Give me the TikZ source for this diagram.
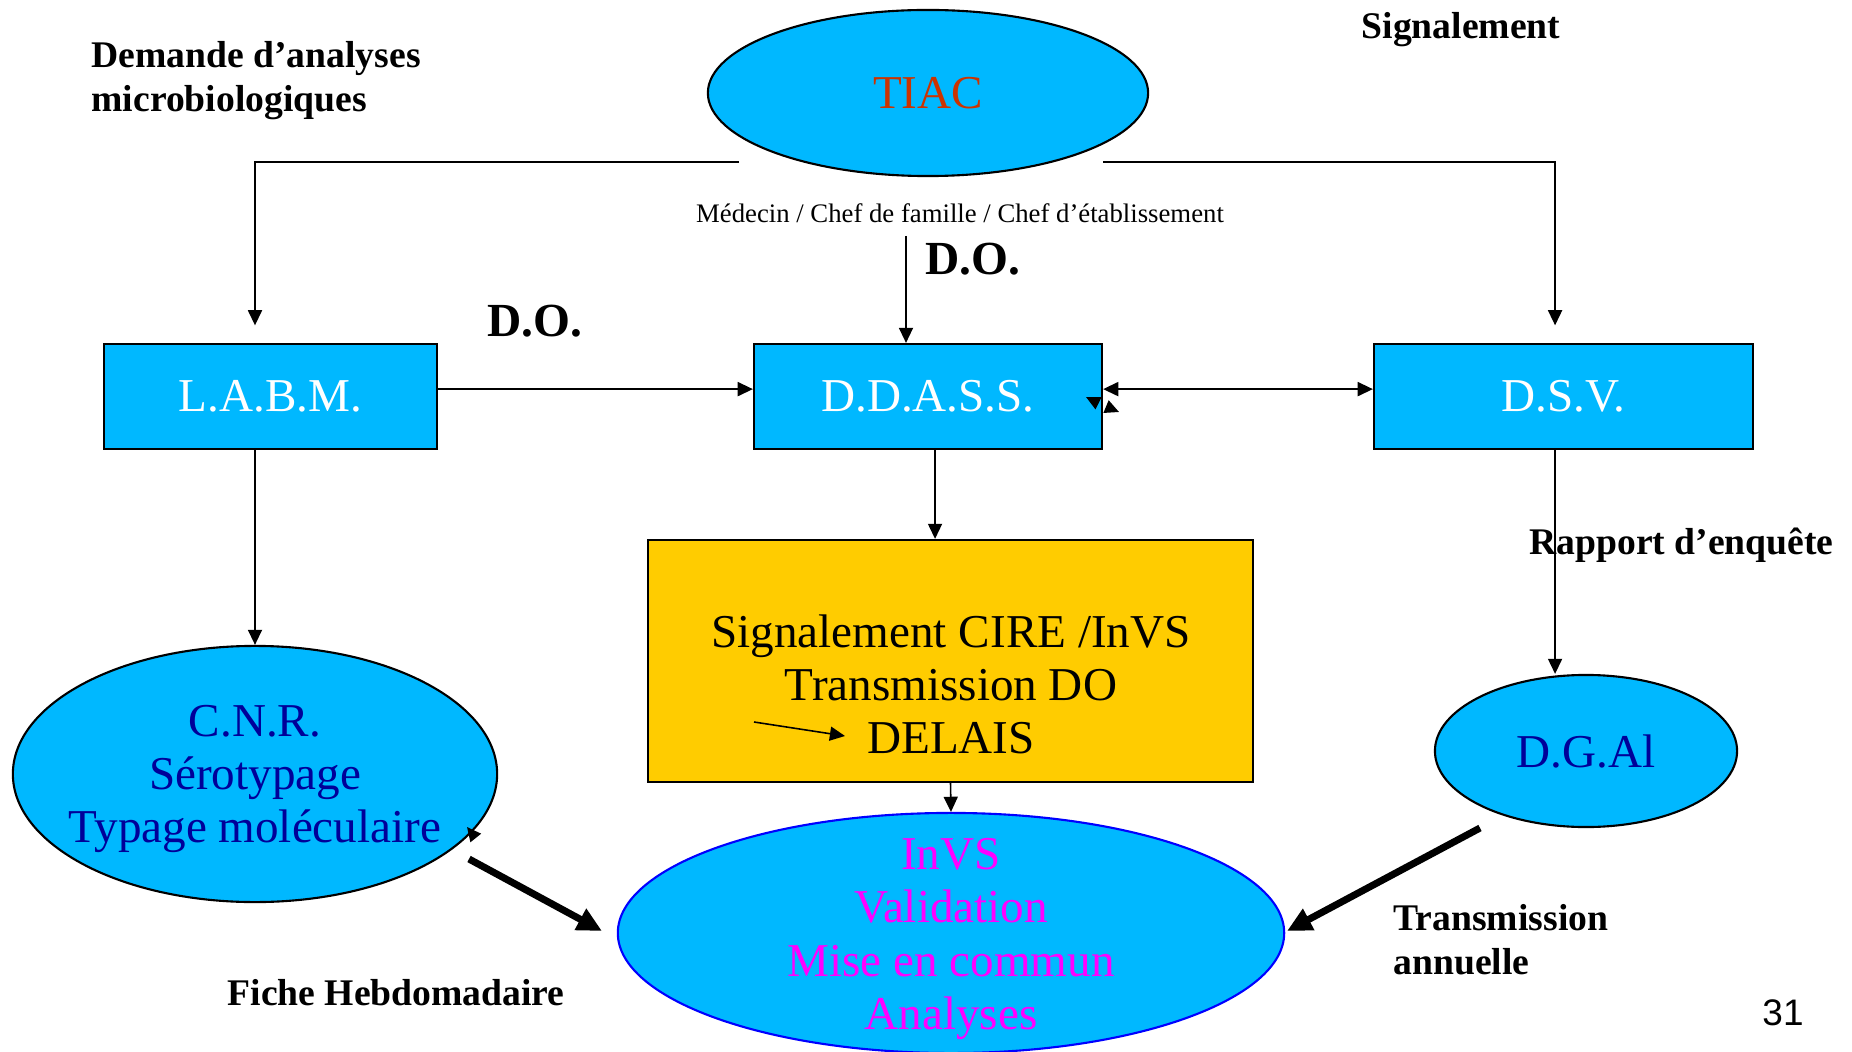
\documentclass[tikz,border=0pt]{standalone}
\usepackage{fontspec}
\setmainfont{Liberation Serif}
\newfontfamily\chiffre{Liberation Sans}
\usepackage{tikz}
\usetikzlibrary{shapes.geometric, arrows.meta, positioning}

\definecolor{ciel}{RGB}{0,184,255}
\definecolor{jaune}{RGB}{255,204,0}
\definecolor{brique}{RGB}{204,51,0}
\definecolor{marine}{RGB}{0,0,153}
\definecolor{rose}{RGB}{255,0,255}

\newcommand\grand{\fontsize{13.4}{15.1}\selectfont}
\newcommand\gras{\bfseries\fontsize{10.7}{12.5}\selectfont}
\newcommand\petit{\fontsize{7.6}{9}\selectfont}

\begin{document}
\begin{tikzpicture}[x=0.01cm, y=-0.01cm, ->, >={Triangle[length=4.3pt,width=4pt]}, line width=0.45pt,
    boite/.style={rectangle, draw, line width=0.6pt, fill=ciel, minimum height=1.05cm, text=white, font=\grand},
    bulle/.style={ellipse, draw, line width=0.6pt, fill=ciel, inner sep=0pt},
    epais/.style={line width=2pt, -{Triangle[length=7pt,width=6.5pt]}},
    petite/.style={-{Triangle[length=4pt,width=3.8pt]}}]
    \useasboundingbox (0,0) rectangle (1852,1052);

    \node[bulle, minimum width=4.4cm, minimum height=1.66cm, text=brique, font=\grand] (tiac) at (928,93) {TIAC};
    \node[boite, minimum width=3.33cm] (labm) at (270.5,396.5) {L.A.B.M.};
    \node[boite, minimum width=3.48cm] (ddass) at (928,396.5) {D.D.A.S.S.};
    \node[boite, minimum width=3.79cm] (dsv) at (1563.5,396.5) {D.S.V.};
    \node[rectangle, draw, line width=0.6pt, fill=jaune, minimum width=6.05cm, minimum height=2.42cm] (cire) at (950.5,661) {};
    \node[align=center, font=\grand] (ciretexte) at (951,684) {Signalement CIRE /InVS\\Transmission DO\\DELAIS};
    \node[bulle, minimum width=4.84cm, minimum height=2.56cm] (cnr) at (255,774) {};
    \node[align=center, text=marine, font=\grand] (cnrtexte) at (255,779) {C.N.R.\\Sérotypage\\Typage moléculaire};
    \node[bulle, minimum width=3.02cm, minimum height=1.52cm, text=marine, font=\grand] (dgal) at (1586,751) {D.G.Al};
    \node[bulle, draw=blue, minimum width=6.66cm, minimum height=2.4cm] (invs) at (951,933) {};
    \node[align=center, text=rose, font=\grand] (invstexte) at (951,939) {InVS\\Validation\\Mise en commun\\Analyses};

    \node[anchor=west, align=left, font=\gras] (demande) at (79,81) {Demande d’analyses\\microbiologiques};
    \node[font=\gras] (signal) at (1461,30) {Signalement};
    \node[font=\petit] (medecin) at (960,213) {Médecin / Chef de famille / Chef d’établissement};
    \node[anchor=west, font=\bfseries\fontsize{13.5}{15}\selectfont] (do1) at (913,259) {D.O.};
    \node[anchor=west, font=\bfseries\fontsize{13.5}{15}\selectfont] (do2) at (475,321) {D.O.};
    \node[anchor=west, font=\gras] (rapport) at (1517,545) {Rapport d’enquête};
    \node[anchor=west, align=left, font=\gras] (annuel) at (1381,940) {Transmission\\annuelle};
    \node[font=\gras] (hebdo) at (396,993) {Fiche Hebdomadaire};
    \node[font=\chiffre\fontsize{10.5}{12}\selectfont] (page) at (1783,1013) {31};

    \coordinate (tiacg) at (739,162);
    \coordinate (tiacd) at (1103,162);
    \coordinate (do) at (906,236);
    \coordinate (delaisa) at (754,722);
    \coordinate (delaisb) at (845,736);
    \coordinate (cnra) at (469,859);
    \coordinate (cnrb) at (602,931);
    \coordinate (dgala) at (1480,828);
    \coordinate (dgalb) at (1287,931);

    \draw[shorten >=5pt] (tiacg) -| (cnr.north |- labm.north);
    \draw[shorten >=5pt] (tiacd) -| ([xshift=-2.4pt]dsv.north);
    \draw (do) -- (do |- ddass.north);
    \draw ([yshift=2.1pt]labm.east) -- ([yshift=2.1pt]ddass.west);
    \draw[<->] ([yshift=2.1pt]ddass.east) -- ([yshift=2.1pt]dsv.west);
    \draw ([xshift=2pt]ddass.south) -- ([xshift=2pt]ddass.south |- cire.north);
    \draw (cnr.north |- labm.south) -- (cnr.north);
    \draw ([xshift=-2.4pt]dsv.south) -- ([xshift=-2.4pt]dsv.south |- dgal.north);
    \draw (cire.south) -- (invs.north);
    \draw (delaisa) -- (delaisb);
    \draw[epais] (cnra) -- (cnrb);
    \draw[epais] (dgala) -- (dgalb);
    \draw[petite] (471,832) -- (467,827);
    \draw[petite] (1098,403) -- (1086,397);
    \draw[petite] (1107,407) -- (1119,412);
\end{tikzpicture}
\end{document}
